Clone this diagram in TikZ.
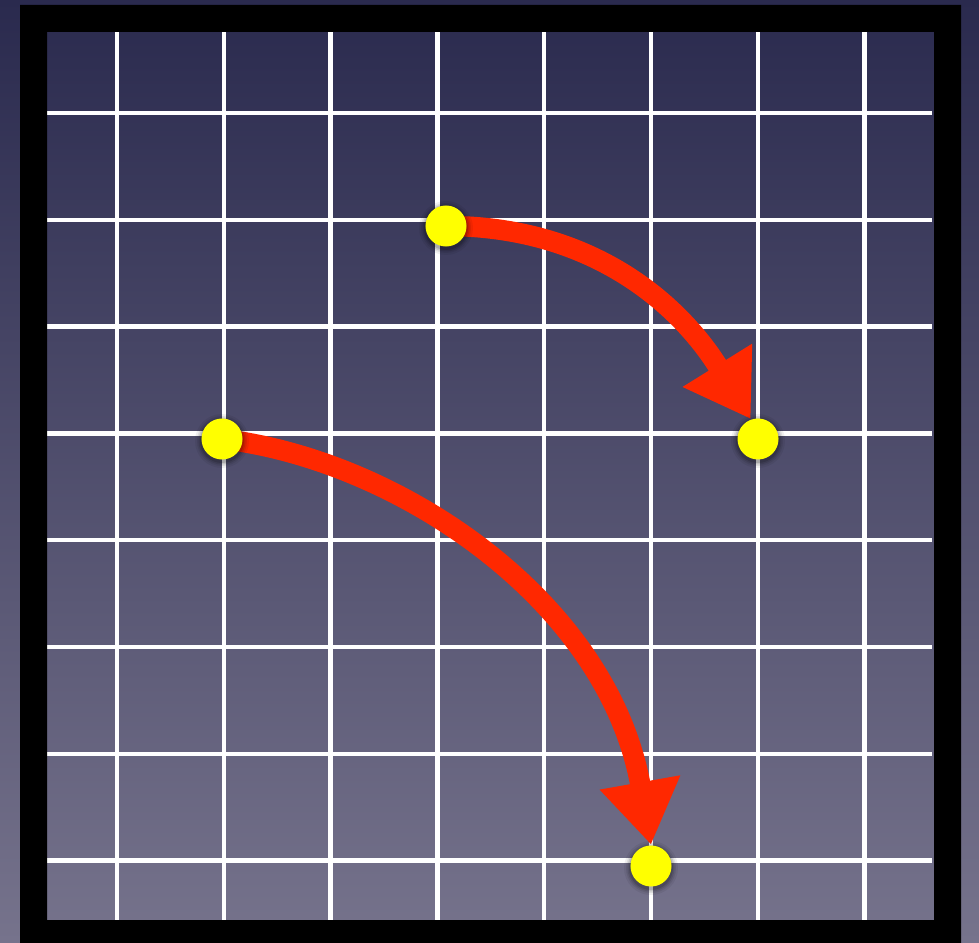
\documentclass[tikz,border=0pt]{standalone}
\usetikzlibrary{arrows.meta,calc}
\definecolor{bgtop}{RGB}{42,42,78}
\definecolor{bgbot}{RGB}{118,115,140}
\definecolor{arrowred}{RGB}{255,40,0}
\definecolor{dotyellow}{RGB}{255,255,0}
\tikzset{
  gridline/.style={white, line width=1.3pt},
  dot/.style={circle, fill=dotyellow, minimum size=0.41cm, inner sep=0pt},
  bigarrow/.style={arrowred, line width=5.8pt,
    -{Triangle[length=18pt,width=22pt]}},
}
\newcommand{\dotshadow}[1]{%
  \foreach \r/\o in {27/0.06,25/0.08,23.5/0.1,22/0.14}{%
    \fill[black, opacity=\o] ($(#1)+(0,-2)$) circle (\r);}%
}
\begin{document}
\begin{tikzpicture}[x=0.01cm, y=0.01cm]
\useasboundingbox (0,0) rectangle (979,942);
% background gradient
\shade[top color=bgtop, bottom color=bgbot] (0,0) rectangle (979,942);
% grid
\foreach \k in {0,...,7}{
  \draw[gridline] ({117+106.8*\k},22) -- ({117+106.8*\k},910);
  \draw[gridline] (47,{829-106.8*\k}) -- (932,{829-106.8*\k});
}
% frame
\fill[black, even odd rule] (20,-10) rectangle (961,937) (47,22) rectangle (934,910);
% dot positions
\coordinate (c1) at (446,716);
\coordinate (c2) at (758,503);
\coordinate (c3) at (651,76);
\coordinate (c4) at (222,503);
% anchors for the arrows
\node[dot, opacity=0] (d1) at (c1) {};
\node[dot, opacity=0] (d2) at (c2) {};
\node[dot, opacity=0] (d3) at (c3) {};
\node[dot, opacity=0] (d4) at (c4) {};
\draw[bigarrow] (d1.center) .. controls (590,716) and (678,640) .. (d2.110);
\draw[bigarrow] (d4.center) .. controls (400,482) and (608,340) .. (d3.north);
% shadows and dots
\foreach \c in {c1,c2,c3,c4}{\dotshadow{\c}}
\node[dot] at (c1) {};
\node[dot] at (c2) {};
\node[dot] at (c3) {};
\node[dot] at (c4) {};
\end{tikzpicture}
\end{document}
